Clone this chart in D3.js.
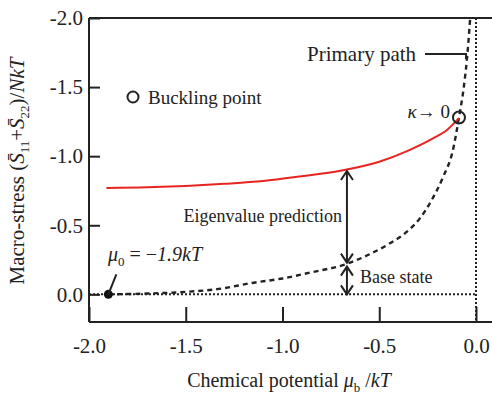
<html>
<head>
<meta charset="utf-8">
<script src="https://cdn.jsdelivr.net/npm/d3@7"></script>
<style>
body{margin:0;background:#fff;}
</style>
</head>
<body>
<script>
// primary path (dashed) : chemical potential and macro-stress
var pathMu  = [-1.9,-1.7,-1.5,-1.3,-1.17,-1.0,-0.85,-0.68,-0.55,-0.45,-0.36,-0.29,-0.23,-0.17,-0.12,-0.088,-0.065,-0.047,-0.03];
var pathVal = [0,-0.006,-0.018,-0.045,-0.08,-0.115,-0.16,-0.215,-0.29,-0.365,-0.45,-0.55,-0.68,-0.85,-1.04,-1.28,-1.48,-1.70,-2.0];
// eigenvalue prediction (red)
var eigMu  = [-1.91,-1.7,-1.5,-1.3,-1.1,-0.9,-0.7,-0.5,-0.35,-0.22,-0.15,-0.088];
var eigVal = [-0.77,-0.775,-0.785,-0.80,-0.82,-0.855,-0.895,-0.96,-1.04,-1.13,-1.19,-1.275];
var buckling = [-0.088,-1.28];
var mu0 = [-1.9,0];
var arrowMu = -0.667, arrowTop = -0.90, arrowMid = -0.215;
var xTicks = [-2.0,-1.5,-1.0,-0.5,0.0];
var yTicks = [-2.0,-1.5,-1.0,-0.5,0.0];

var serif = "'Liberation Serif', Tinos, 'Times New Roman', serif";
var width = 492, height = 395;
var svg = d3.select("body").append("svg")
    .attr("width", width)
    .attr("height", height)
    .style("font-family", serif);

var x = d3.scaleLinear().domain([-2,0]).range([89,476]);
var y = d3.scaleLinear().domain([-2,0.2]).range([18,322]);

// axes with inward ticks
svg.append("g").attr("transform","translate(0,"+y(0.2)+")")
    .call(d3.axisBottom(x).tickValues(xTicks).tickSizeInner(-15).tickSizeOuter(0).tickPadding(16).tickFormat(d=>d.toFixed(1)));
svg.append("g").attr("transform","translate("+x(-2)+",0)")
    .call(d3.axisLeft(y).tickValues(yTicks).tickSizeInner(-11).tickSizeOuter(0).tickPadding(6).tickFormat(d=>d.toFixed(1)));
svg.selectAll("g").attr("font-family", null).attr("font-size", null);
svg.selectAll(".domain").remove();
svg.selectAll(".tick line").attr("stroke","#222").attr("stroke-width",2);
svg.selectAll(".tick text").style("font-size","21px").attr("fill","#222");

// frame lines: left, top and bottom
svg.append("line").attr("x1",x(-2)).attr("x2",x(-2)).attr("y1",y(-2)).attr("y2",y(0.2)).attr("stroke","#222").attr("stroke-width",2);
svg.append("line").attr("x1",x(-2)).attr("x2",width).attr("y1",y(-2)).attr("y2",y(-2)).attr("stroke","#222").attr("stroke-width",2);
svg.append("line").attr("x1",x(-2)).attr("x2",width).attr("y1",y(0.2)).attr("y2",y(0.2)).attr("stroke","#222").attr("stroke-width",2);

// dotted reference lines at 0
svg.append("line").attr("x1",x(-2)).attr("x2",x(0)).attr("y1",y(0)).attr("y2",y(0))
    .attr("stroke","#222").attr("stroke-width",2).attr("stroke-dasharray","2,2");
svg.append("line").attr("x1",x(0)).attr("x2",x(0)).attr("y1",y(-2)).attr("y2",y(0.2))
    .attr("stroke","#222").attr("stroke-width",2).attr("stroke-dasharray","2,2");

var line = d3.line().x(d=>x(d[0])).y(d=>y(d[1])).curve(d3.curveMonotoneX);

svg.append("path")
    .attr("d", line(d3.zip(pathMu,pathVal)))
    .attr("fill","none").attr("stroke","#222").attr("stroke-width",2.4).attr("stroke-dasharray","5,4");
svg.append("path")
    .attr("d", line(d3.zip(eigMu,eigVal)))
    .attr("fill","none").attr("stroke","#e82420").attr("stroke-width",2);

// buckling point
svg.append("circle").attr("cx",x(buckling[0])).attr("cy",y(buckling[1])).attr("r",6)
    .attr("fill","none").attr("stroke","#222").attr("stroke-width",2);

// mu0 dot and leader
svg.append("circle").attr("cx",x(mu0[0])).attr("cy",y(mu0[1])).attr("r",4.5).attr("fill","#111");
svg.append("line").attr("x1",x(mu0[0])).attr("y1",y(mu0[1])).attr("x2",x(mu0[0])+8).attr("y2",y(mu0[1])-20)
    .attr("stroke","#222").attr("stroke-width",2);
var t0 = svg.append("text").attr("x",108).attr("y",261).attr("fill","#222").style("font-size","20px");
t0.append("tspan").style("font-style","italic").text("\u03bc");
t0.append("tspan").attr("dy",5).style("font-size","13px").text("0");
t0.append("tspan").attr("dy",-5).text(" = \u2212");
t0.append("tspan").style("font-style","italic").text("1.9kT");

// double arrows
function vArrow(xp, y1, y2){
    svg.append("line").attr("x1",xp).attr("x2",xp).attr("y1",y1).attr("y2",y2).attr("stroke","#222").attr("stroke-width",2);
    svg.append("path").attr("d","M"+(xp-6)+","+(y1+9)+"L"+xp+","+y1+"L"+(xp+6)+","+(y1+9))
        .attr("fill","none").attr("stroke","#222").attr("stroke-width",2);
    svg.append("path").attr("d","M"+(xp-6)+","+(y2-9)+"L"+xp+","+y2+"L"+(xp+6)+","+(y2-9))
        .attr("fill","none").attr("stroke","#222").attr("stroke-width",2);
}
vArrow(x(arrowMu), y(arrowTop)+1, y(arrowMid)-2);
vArrow(x(arrowMu), y(arrowMid)+2, y(0));

svg.append("text").attr("x",x(arrowMu)-5).attr("y",222).attr("text-anchor","end").attr("fill","#222").style("font-size","18px").text("Eigenvalue prediction");
svg.append("text").attr("x",x(arrowMu)+13).attr("y",283).attr("fill","#222").style("font-size","18px").text("Base state");

// primary path label
svg.append("text").attr("x",307).attr("y",61).attr("fill","#222").style("font-size","21px").text("Primary path");
svg.append("path").attr("d","M425,54L466,54L466,59").attr("fill","none").attr("stroke","#222").attr("stroke-width",2);

// kappa label
var tk = svg.append("text").attr("x",x(buckling[0])-9).attr("y",y(buckling[1])+1).attr("text-anchor","end").attr("fill","#222").style("font-size","19px");
tk.append("tspan").style("font-style","italic").text("\u03ba");
tk.append("tspan").style("font-size","19px").text("\u2192");
tk.append("tspan").text(" 0");

// legend
svg.append("circle").attr("cx",133).attr("cy",97).attr("r",5.5).attr("fill","none").attr("stroke","#222").attr("stroke-width",2);
svg.append("text").attr("x",148).attr("y",104).attr("fill","#222").style("font-size","19px").text("Buckling point");

// x label
var tx = svg.append("text").attr("x",289).attr("y",387).attr("text-anchor","middle").attr("fill","#222").style("font-size","20px");
tx.append("tspan").text("Chemical potential ");
tx.append("tspan").style("font-style","italic").text("\u03bc");
tx.append("tspan").attr("dy",5).style("font-size","13px").text("b");
tx.append("tspan").attr("dy",-5).text(" /");
tx.append("tspan").style("font-style","italic").text("kT");

// y label
var ty = svg.append("text").attr("transform","translate(24,171) rotate(-90)").attr("text-anchor","middle").attr("fill","#222").style("font-size","21px");
ty.append("tspan").text("Macro-stress  (");
ty.append("tspan").style("font-style","italic").text("S\u0304");
ty.append("tspan").attr("dy",5).style("font-size","13px").text("11");
ty.append("tspan").attr("dy",-5).text("+");
ty.append("tspan").style("font-style","italic").text("S\u0304");
ty.append("tspan").attr("dy",5).style("font-size","13px").text("22");
ty.append("tspan").attr("dy",-5).text(")/");
ty.append("tspan").style("font-style","italic").text("NkT");
</script>
</body>
</html>
